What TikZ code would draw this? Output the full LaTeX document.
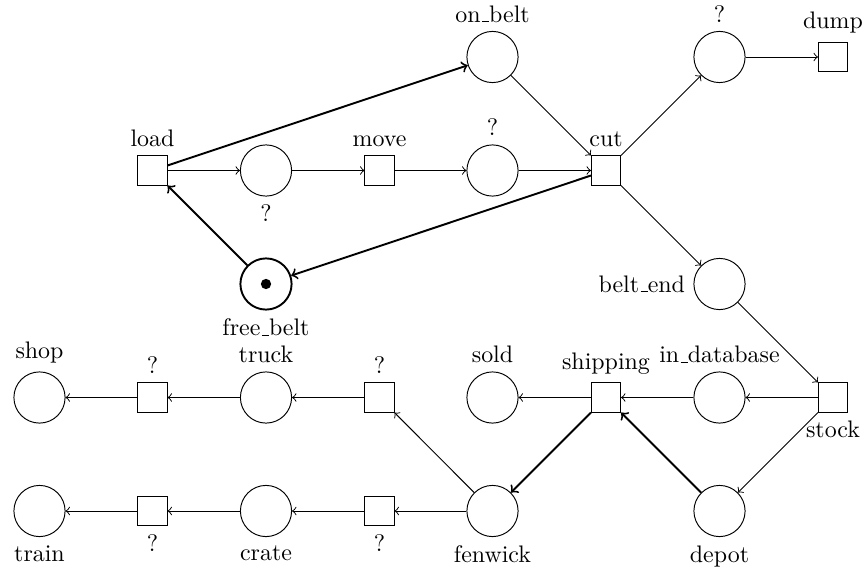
\documentclass[tikz,border=0pt]{standalone}
\usetikzlibrary{petri}
\newcommand\usc{\leavevmode\kern.06em\vbox{\hrule width.3em}}
\begin{document}
\begin{tikzpicture}[x=0.41806pt,y=-0.41806pt,
  pl/.style={circle,draw,inner sep=0pt,minimum size=21.4pt},
  tr/.style={rectangle,draw,inner sep=0pt,minimum size=12.2pt},
  arc/.style={->},
  tarc/.style={->,thick}]
\useasboundingbox (0,0) rectangle (865,571);
% row 0
\node[pl,label=above:on\usc belt] (onbelt) at (492.5,57) {};
\node[pl,label=above:?] (p3) at (719.5,57) {};
\node[tr,label=above:dump] (dump) at (833,57) {};
% row 1
\node[tr,label=above:load] (load) at (152.5,170.5) {};
\node[pl,label=below:?] (p1) at (266,170.5) {};
\node[tr,label=above:move] (move) at (379.5,170.5) {};
\node[pl,label=above:?] (p2) at (492.5,170.5) {};
\node[tr,label=above:cut] (cut) at (606,170.5) {};
% row 2
\node[pl,thick,tokens=1,label=below:free\usc belt] (freebelt) at (266,284) {};
\node[pl,label=left:belt\usc end] (beltend) at (719.5,284) {};
% row 3
\node[pl,label=above:shop] (shop) at (39.5,397.5) {};
\node[tr,label=above:?] (t2) at (152.5,397.5) {};
\node[pl,label=above:truck] (truck) at (266,397.5) {};
\node[tr,label=above:?] (t1) at (379.5,397.5) {};
\node[pl,label=above:sold] (sold) at (492.5,397.5) {};
\node[tr,label=above:shipping] (shipping) at (606,397.5) {};
\node[pl,label=above:in\usc database] (indb) at (719.5,397.5) {};
\node[tr,label=below:stock] (stock) at (833,397.5) {};
% row 4
\node[pl,label=below:train] (train) at (39.5,511) {};
\node[tr,label=below:?] (t4) at (152.5,511) {};
\node[pl,label=below:crate] (crate) at (266,511) {};
\node[tr,label=below:?] (t3) at (379.5,511) {};
\node[pl,label=below:fenwick] (fenwick) at (492.5,511) {};
\node[pl,label=below:depot] (depot) at (719.5,511) {};
% arcs
\draw[tarc] (load) -- (onbelt);
\draw[arc] (load) -- (p1);
\draw[arc] (p1) -- (move);
\draw[arc] (move) -- (p2);
\draw[arc] (p2) -- (cut);
\draw[arc] (onbelt) -- (cut);
\draw[arc] (cut) -- (p3);
\draw[arc] (p3) -- (dump);
\draw[arc] (cut) -- (beltend);
\draw[tarc] (cut) -- (freebelt);
\draw[tarc] (freebelt) -- (load);
\draw[arc] (beltend) -- (stock);
\draw[arc] (stock) -- (indb);
\draw[arc] (stock) -- (depot);
\draw[arc] (indb) -- (shipping);
\draw[arc] (shipping) -- (sold);
\draw[tarc] (shipping) -- (fenwick);
\draw[tarc] (depot) -- (shipping);
\draw[arc] (fenwick) -- (t1);
\draw[arc] (t1) -- (truck);
\draw[arc] (truck) -- (t2);
\draw[arc] (t2) -- (shop);
\draw[arc] (fenwick) -- (t3);
\draw[arc] (t3) -- (crate);
\draw[arc] (crate) -- (t4);
\draw[arc] (t4) -- (train);
\end{tikzpicture}
\end{document}
